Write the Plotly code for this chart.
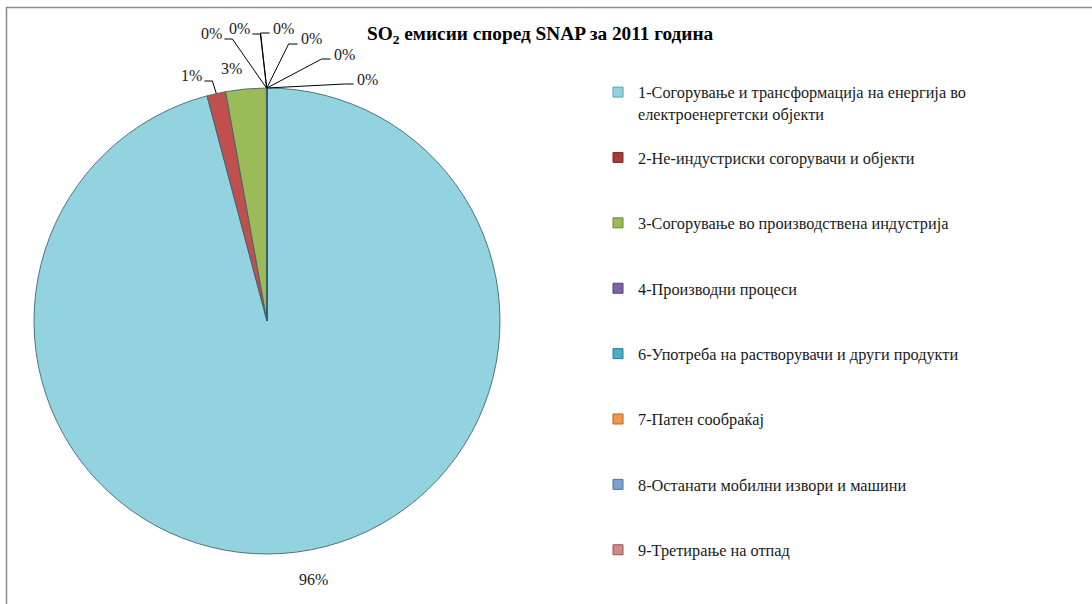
import math
import plotly.graph_objects as go

# ---------------- data ----------------
categories = [
    "1-Согорување и трансформација на енергија во електроенергетски објекти",
    "2-Не-индустриски согорувачи и објекти",
    "3-Согорување во производствена индустрија",
    "4-Производни процеси",
    "5-Екстракција и дистрибуција на фосилни горива",
    "6-Употреба на растворувачи и други продукти",
    "7-Патен сообраќај",
    "8-Останати мобилни извори и машини",
    "9-Третирање на отпад",
]
share_pct = [95.86, 1.30, 2.80, 0.01, 0.005, 0.01, 0.01, 0.003, 0.002]
in_legend = [True, True, True, True, False, True, True, True, True]
title_text = "<b>SO<sub>2</sub> емисии според SNAP за 2011 година</b>"

# ---------------- style / layout ----------------
W, H = 1092, 604
slice_colors = ["#93D3E0", "#C0504D", "#9BBB59", "#8064A2", "#F2DCDB",
                "#4BACC6", "#F79646", "#7F9FD0", "#D08A88"]
legend_edge = ["#5A9FB0", "#7E2A28", "#6A8A36", "#553F78", "#999999",
               "#2C7E96", "#B8651E", "#52709E", "#9A5553"]
CX, CY, R = 267, 321, 233          # pie centre / radius in px
FONT = "Liberation Serif"

# label text centres (px) for every slice, and whether a leader line is drawn
label_xy = [(313, 579), (191, 76), (231, 68), (211, 34), (239, 29),
            (283, 28), (311, 39), (344, 54), (367, 79)]
leader = [False, True, False, True, True, True, True, True, True]


def px(x):
    return x / W


def py(y):
    return 1 - y / H


fig = go.Figure()
fig.add_trace(go.Pie(
    labels=categories, values=share_pct, sort=False, direction="clockwise",
    rotation=0, textinfo="none", showlegend=False,
    marker=dict(colors=slice_colors, line=dict(color="rgba(60,95,105,0.85)", width=1)),
    domain=dict(x=[px(CX - R), px(CX + R)], y=[py(CY + R), py(CY - R)]),
    hovertemplate="%{label}<br>%{percent}<extra></extra>",
))

# legend entries (pie slice 5 is not listed in the original legend)
for i, (cat, show) in enumerate(zip(categories, in_legend)):
    if not show:
        continue
    if cat.endswith("во електроенергетски објекти"):
        name = cat.replace("во електроенергетски", "во<br>електроенергетски")
    else:
        name = cat + "<br>\u00a0"
    fig.add_trace(go.Scatter(
        x=[None], y=[None], mode="markers", name=name, legendgroup=str(i),
        marker=dict(symbol="square", size=10, color=slice_colors[i] if i != 1 else "#A83A37",
                    line=dict(color=legend_edge[i], width=1)),
        hoverinfo="skip",
    ))

# percentage labels + leader lines, computed from the data
total = sum(share_pct)
cum = 0.0
annotations, shapes = [], []
for i, v in enumerate(share_pct):
    mid = (cum + v / 2) / total
    cum += v
    ang = 2 * math.pi * mid
    axp = CX + R * math.sin(ang)
    ayp = CY - R * math.cos(ang)
    txt = f"{round(100 * v / total):.0f}%"
    tx, ty = label_xy[i]
    annotations.append(dict(x=px(tx), y=py(ty), xref="paper", yref="paper", text=txt,
                            showarrow=False, xanchor="center", yanchor="middle",
                            font=dict(family=FONT, size=16, color="#1a1a1a")))
    if leader[i]:
        hw = 5.2 * len(txt) + 1
        yl = ty + 5
        if tx < axp:
            x0 = tx + hw + 2
            x1 = x0 + 8
        else:
            x0 = tx - hw - 2
            x1 = x0 - 9
        path = f"M {px(x0)},{py(yl)} L {px(x1)},{py(yl)} L {px(axp)},{py(ayp)}"
        shapes.append(dict(type="path", xref="paper", yref="paper", path=path,
                           line=dict(color="black", width=1)))

# chart frame
shapes.append(dict(type="rect", xref="paper", yref="paper", x0=px(6.5), x1=px(W + 10),
                   y0=py(H + 10), y1=py(7.5), line=dict(color="#8c8c8c", width=1.5),
                   layer="below"))

fig.update_layout(
    width=W, height=H, margin=dict(l=0, r=0, t=0, b=0),
    paper_bgcolor="white", plot_bgcolor="white",
    xaxis=dict(visible=False), yaxis=dict(visible=False),
    title=dict(text=title_text, x=px(367), xanchor="left", y=py(33), yanchor="middle",
               xref="paper", yref="paper", font=dict(family=FONT, size=19.3, color="black")),
    legend=dict(x=px(598), xanchor="left", y=py(75), yanchor="top",
                font=dict(family=FONT, size=16.3, color="#1a1a1a"),
                valign="top", tracegroupgap=20, bgcolor="rgba(0,0,0,0)"),
    annotations=annotations, shapes=shapes,
    showlegend=True,
)

fig.write_html("out.html")
